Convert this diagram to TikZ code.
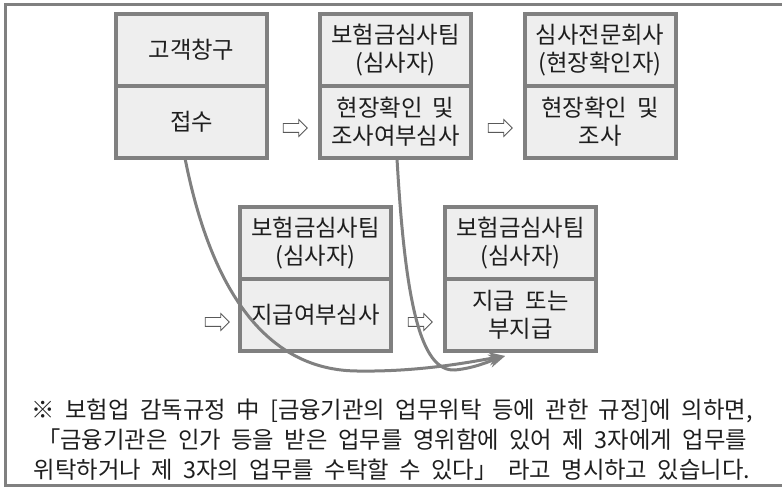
\documentclass[tikz,border=0pt]{standalone}
\usepackage{fontspec}
\setmainfont{Noto Sans CJK KR}[WordSpace=2]
\usetikzlibrary{shapes.arrows,arrows.meta}
\definecolor{edgegray}{HTML}{808080}
\definecolor{cellgray}{HTML}{EEEEEE}
\definecolor{inkgray}{HTML}{1E1E1E}

\begin{document}
\begin{tikzpicture}[x=0.75pt, y=-0.75pt,
  every node/.style={font=\fontsize{17.5}{21}\selectfont, text=inkgray},
  cell/.style={draw=edgegray, fill=cellgray, line width=3pt, outer sep=0pt,
    minimum width=113.25pt, minimum height=54pt, inner sep=0pt, align=center},
  hollow/.style={single arrow, draw=black!65, fill=white, line width=0.6pt,
    minimum height=18pt, minimum width=12pt, single arrow head extend=3pt, inner sep=3pt},
  link/.style={draw=edgegray, line width=2.25pt, -{Stealth[length=12pt,width=10pt]}}]
\clip (0,0) rectangle (782,488);
%frame
\draw[edgegray, line width=2.25pt] (5,5) rectangle (790,485);
%top row
\node[cell] (b1t) at (191.5,50) {고객창구};
\node[cell] (b1b) at (191.5,122) {접수};
\node[cell] (b2t) at (395.5,50) {보험금심사팀\\(심사자)};
\node[cell] (b2b) at (395.5,122) {현장확인 및\\조사여부심사};
\node[cell] (b3t) at (600,50) {심사전문회사\\(현장확인자)};
\node[cell] (b3b) at (600,122) {현장확인 및\\조사};
%bottom row
\node[cell] (b4t) at (315.5,243) {보험금심사팀\\(심사자)};
\node[cell] (b4b) at (315.5,315) {지급여부심사};
\node[cell] (b5t) at (520.5,243) {보험금심사팀\\(심사자)};
\node[cell] (b5b) at (520.5,315) {지급 또는\\부지급};
%hollow arrows
\foreach \n/\x/\y in {h1/293/128, h2/498/128, h3/215/322, h4/418/322}{
	\node[hollow] (\n) at (\x,\y) {};
}
%curved links
\coordinate (tip) at (505,356);
\draw[link] ([xshift=-4.9pt]b1b.south) .. controls (205,260) and (250,370) .. (357,371)
	.. controls (420,372) and (470,362) .. (tip);
\draw[link] ([xshift=1.1pt]b2b.south) .. controls (405,300) and (420,372) .. (455,370)
	.. controls (475,368) and (490,361) .. (tip);
%note
\node[align=center, font=\fontsize{17.5}{22.5}\selectfont] (note) at (392,440)
	{※ 보험업 감독규정 中 [금융기관의 업무위탁 등에 관한 규정]에 의하면,\\
	「금융기관은 인가 등을 받은 업무를 영위함에 있어 제 3자에게 업무를\\
	위탁하거나 제 3자의 업무를 수탁할 수 있다」 라고 명시하고 있습니다.};
\end{tikzpicture}
\end{document}
